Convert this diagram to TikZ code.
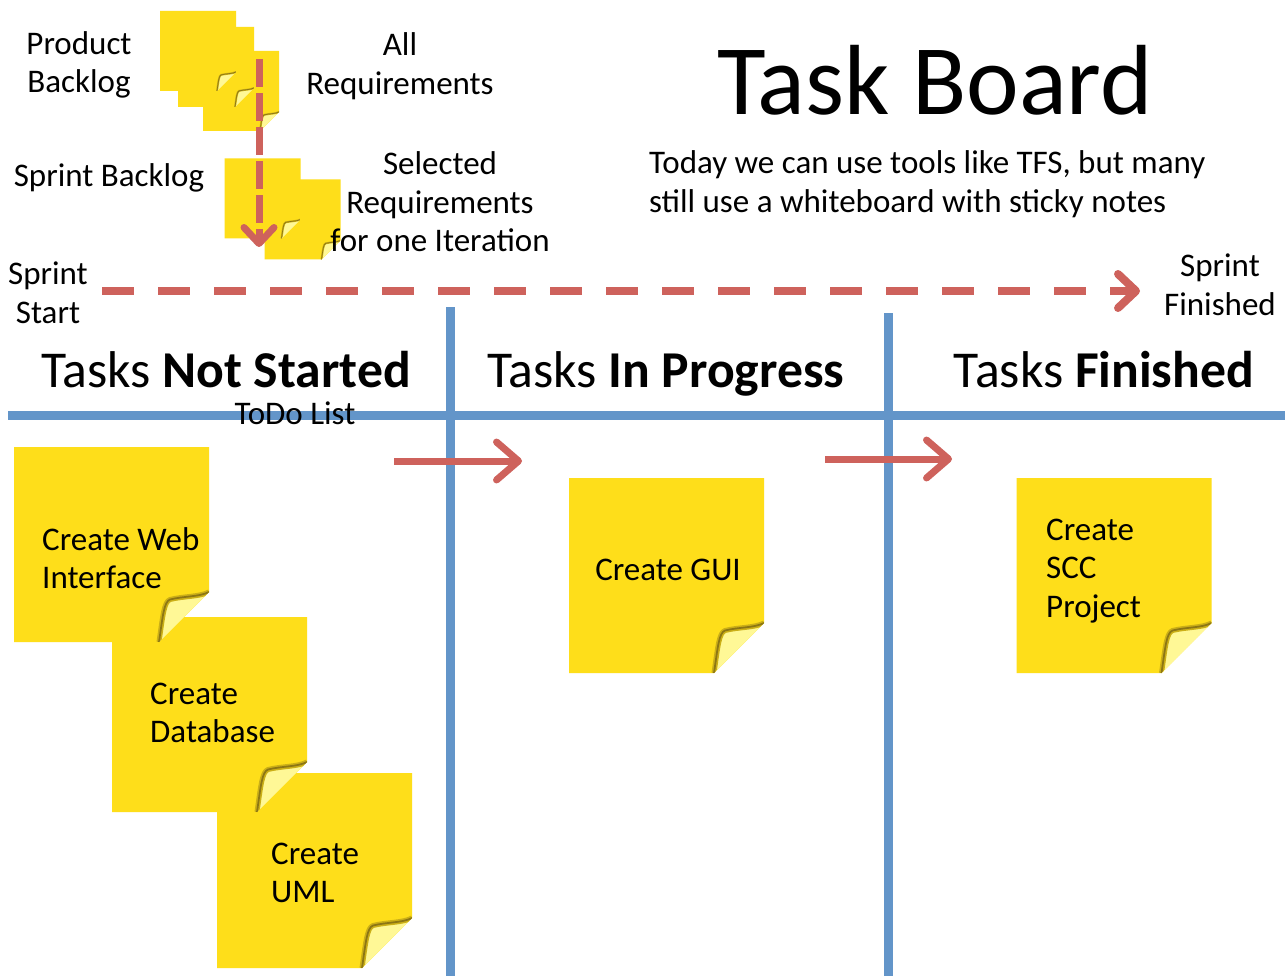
\documentclass[tikz,border=0pt]{standalone}
\usepackage{fontspec}
\setmainfont{Carlito}
\usetikzlibrary{arrows.meta}
\definecolor{noteY}{RGB}{254,222,26}
\definecolor{flapY}{RGB}{255,248,150}
\definecolor{flapD}{RGB}{140,118,20}
\definecolor{boardB}{RGB}{99,149,201}
\definecolor{arrowR}{RGB}{206,98,92}
\newcommand\setfs[2]{\fontsize{#1}{#2}\selectfont}
\newcommand\curlpath[2]{([xshift=-#2pt]#1.south east) .. controls ([xshift=-0.92*#2pt,yshift=0.55*#2pt]#1.south east) and ([xshift=-0.9*#2pt,yshift=0.8*#2pt]#1.south east) .. ([xshift=-0.78*#2pt,yshift=0.85*#2pt]#1.south east) .. controls ([xshift=-0.5*#2pt,yshift=0.92*#2pt]#1.south east) and ([xshift=-0.2*#2pt,yshift=0.9*#2pt]#1.south east) .. ([yshift=#2pt]#1.south east)}
\newcommand\notebody[2]{%
 \fill[noteY] (#1.north west) -- (#1.north east) -- ([yshift=#2pt]#1.south east) -- ([xshift=-#2pt]#1.south east) -- (#1.south west) -- cycle;
 \begin{scope}
 \clip (#1.north west) -- (#1.north east) -- ([yshift=#2pt]#1.south east) -- ([xshift=-#2pt]#1.south east) -- (#1.south west) -- cycle;
 \fill[flapY] \curlpath{#1}{#2} -- cycle;
 \draw[flapD!45!noteY, line width=0.1*#2pt] \curlpath{#1}{#2};
 \draw[flapD, line width=0.035*#2pt] \curlpath{#1}{#2};
 \end{scope}
}
\tikzset{
  notebox/.style={inner sep=0pt, outer sep=0pt, minimum width=#1pt, minimum height=#1pt},
  smallnote/.style={inner sep=0pt, outer sep=0pt, minimum width=76pt, minimum height=80pt},
  lbl/.style={inner sep=0pt, font=\setfs{33}{38.5}},
  hdr/.style={inner sep=0pt, font=\setfs{51.7}{60}},
  board/.style={boardB, line width=9pt},
  redarrow/.style={arrowR, line width=7pt, -{Straight Barb[length=22pt,width=38pt,round]}},
}
\begin{document}
\begin{tikzpicture}[x=1pt,y=-1pt]
\useasboundingbox (0,0) rectangle (1287,976);
\fill[white] (0,0) rectangle (1287,976);
% backlog notes
\node[smallnote] (n3) at (241,91) {};
\node[smallnote] (n2) at (216,67) {};
\node[smallnote] (n1) at (198,51) {};
\notebody{n3}{19}\notebody{n2}{19}\notebody{n1}{19}
\node[smallnote] (n5) at (302.5,219.5) {};
\node[smallnote] (n4) at (262.5,198.5) {};
\notebody{n5}{19}\notebody{n4}{19}
\coordinate (va) at (259,59);
\coordinate (vb) at (259,247);
\draw[arrowR, line width=7pt, dash pattern=on 28pt off 6pt, -{Straight Barb[length=16pt,width=30pt,round]}] (va) -- (vb);
% labels
\node[lbl, align=center] (pb) at (79,65) {Product\\Backlog};
\node[lbl, align=center] (ar) at (400,66) {All\\Requirements};
\node[lbl] (sbk) at (109,178) {Sprint Backlog};
\node[lbl, align=center] (sel) at (440,202) {Selected\\Requirements\\for one Iteration};
\node[lbl, align=center] (ss) at (48,293) {Sprint\\Start};
\node[lbl, align=center] (sf) at (1220,285) {Sprint\\Finished};
\node[inner sep=0pt, font=\setfs{99.7}{110}, anchor=base] (title) at (935,115) {Task Board};
\node[lbl, align=left, anchor=west] (today) at (649,184) {Today we can use tools like TFS, but many\\still use a whiteboard with sticky notes};
% sprint arrow
\coordinate (sa) at (102,291);
\coordinate (sb) at (1140,291);
\draw[arrowR, line width=8pt, dash pattern=on 32pt off 24pt, -{Straight Barb[length=18pt,width=34pt,round]}] (sa) -- (sb);
% board lines
\coordinate (hl) at (8,415); \coordinate (hr) at (1285,415);
\coordinate (v1t) at (450,307); \coordinate (v1b) at (450,976);
\coordinate (v2t) at (888,313); \coordinate (v2b) at (888,976);
\draw[board] (hl) -- (hr);
\draw[board] (v1t) -- (v1b);
\draw[board] (v2t) -- (v2b);
% headers
\node[hdr, anchor=base] (h1) at (226,387) {Tasks \textbf{Not Started}};
\node[hdr, anchor=base] (h2) at (666,387) {Tasks \textbf{In Progress}};
\node[hdr, anchor=base] (h3) at (1104,387) {Tasks \textbf{Finished}};
\node[inner sep=0pt, font=\setfs{33}{38}, anchor=base] (todo) at (295,424) {ToDo List};
% task notes
\node[notebox=195] (uml) at (314.5,870.5) {};
\node[notebox=195] (db) at (209.5,714.5) {};
\node[notebox=195] (web) at (111.5,544.5) {};
\node[notebox=195] (gui) at (666.5,575.5) {};
\node[notebox=195] (scc) at (1114,575.5) {};
\notebody{uml}{50}\notebody{db}{50}\notebody{web}{50}\notebody{gui}{50}\notebody{scc}{50}
\node[lbl, align=left, anchor=west] (tweb) at (42,558) {Create Web\\Interface};
\node[lbl, align=left, anchor=west] (tdb) at (150,713) {Create\\Database};
\node[lbl, align=left, anchor=west] (tuml) at (271,873) {Create\\UML};
\node[lbl] (tgui) at (668,570) {Create GUI};
\node[lbl, align=left, anchor=west] (tscc) at (1046,571) {Create\\SCC\\Project};
% red arrows
\coordinate (ra1) at (394,461); \coordinate (rb1) at (522,461);
\coordinate (ra2) at (825,459); \coordinate (rb2) at (952,459);
\draw[redarrow] (ra1) -- (rb1);
\draw[redarrow] (ra2) -- (rb2);
\end{tikzpicture}
\end{document}
